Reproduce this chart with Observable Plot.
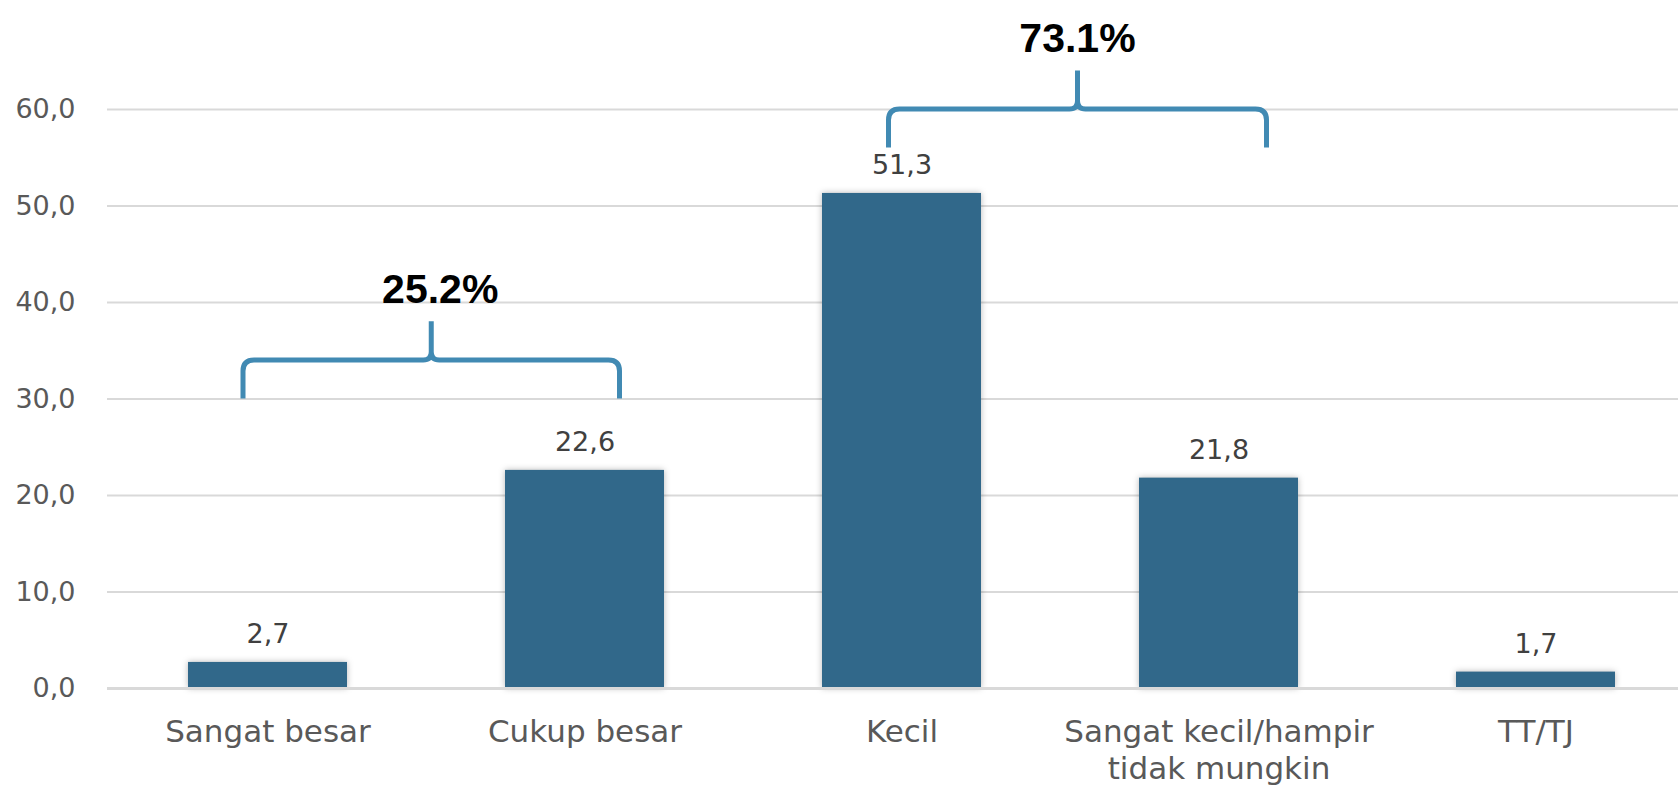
<!DOCTYPE html>
<html><head><meta charset="utf-8">
<script src="https://cdn.jsdelivr.net/npm/d3@7"></script>
<script src="https://cdn.jsdelivr.net/npm/@observablehq/plot@0.6"></script>
<style>
body{margin:0;background:#fff;}
#chart svg{display:block;}
</style>
</head><body><div id="chart"></div>
<script>
// ---- data ----
const categories = ["Sangat besar", "Cukup besar", "Kecil", "Sangat kecil/hampir\ntidak mungkin", "TT/TJ"];
const values = [2.7, 22.6, 51.3, 21.8, 1.7];
const yTicks = [0, 10, 20, 30, 40, 50, 60];
const groupLabels = ["25.2%", "73.1%"];
const groupFirst = ["Sangat besar", "Kecil"];
const groupLast = ["Cukup besar", "Sangat kecil/hampir\ntidak mungkin"];

const rows = categories.map((c, i) => ({cat: c, val: values[i]}));
const groups = groupLabels.map((l, i) => ({label: l, first: groupFirst[i], last: groupLast[i]}));

// layout of the braces (value level of brace foot, pixel offsets of ends and label)
const braceLayout = [
  {base: 30, dl: -24.5, dr: 35, lx: 9},
  {base: 56, dl: -13, dr: 48, lx: 0}
];

const fmt = d => d.toFixed(1).replace(".", ",");
const FONT = "DejaVu Sans";
const BLUE = "#31688A";
const BRACE = "#418AB3";

function braces(index, scales) {
  const {x, y} = scales;
  const bw = x.bandwidth();
  const g = d3.create("svg:g");
  groups.forEach((gr, k) => {
    const lay = braceLayout[k];
    const L = x(gr.first) + bw / 2 + lay.dl;
    const R = x(gr.last) + bw / 2 + lay.dr;
    const yb = y(lay.base), yh = y(lay.base + 4), yt = y(lay.base + 8);
    const c = (L + R) / 2, r = 11, r2 = 8;
    const p = `M${L},${yb} V${yh + r} Q${L},${yh} ${L + r},${yh} H${c - r2} Q${c},${yh} ${c},${yh - r2} V${yt} ` +
              `M${c},${yh - r2} Q${c},${yh} ${c + r2},${yh} H${R - r} Q${R},${yh} ${R},${yh + r} V${yb}`;
    g.append("path").attr("d", p).attr("fill", "none").attr("stroke", BRACE).attr("stroke-width", 5);
    g.append("text").attr("x", c + lay.lx).attr("y", yt - 18).attr("text-anchor", "middle")
      .attr("font-family", "Liberation Sans").attr("font-weight", "bold").attr("font-size", 41)
      .attr("fill", "#000").text(gr.label);
  });
  return g.node();
}

const chart = Plot.plot({
  width: 1678,
  height: 785,
  marginTop: 109,
  marginBottom: 97,
  marginLeft: 107,
  marginRight: 0,
  style: {fontFamily: FONT, fontSize: "27px", color: "#595959", background: "#fff"},
  x: {domain: categories, range: [106.5, 1695], paddingInner: 0.5, paddingOuter: 0.25, label: null},
  y: {domain: [0, 60], label: null},
  marks: [
    Plot.ruleY(yTicks, {stroke: "#d9d9d9", strokeWidth: 2}),
    Plot.axisY({ticks: yTicks, tickSize: 0, tickPadding: 32, tickFormat: fmt, label: null, fill: "#595959", fontSize: 27}),
    Plot.axisX({tickSize: 0, tickPadding: 28, label: null, fill: "#595959", fontSize: 31, lineHeight: 1.18}),
    Plot.barY(rows, {x: "cat", y: "val", fill: BLUE}),
    Plot.ruleY([0], {stroke: "#d9d9d9", strokeWidth: 3}),
    Plot.text(rows, {x: "cat", y: "val", text: d => fmt(d.val), dy: -28, fill: "#404040", fontSize: 27}),
    braces
  ]
});

d3.select(chart).selectAll('g[aria-label="bar"]').style("filter", "drop-shadow(0px 0px 3px rgba(0,0,0,0.28))");
document.getElementById("chart").append(chart);
</script>
</body></html>
